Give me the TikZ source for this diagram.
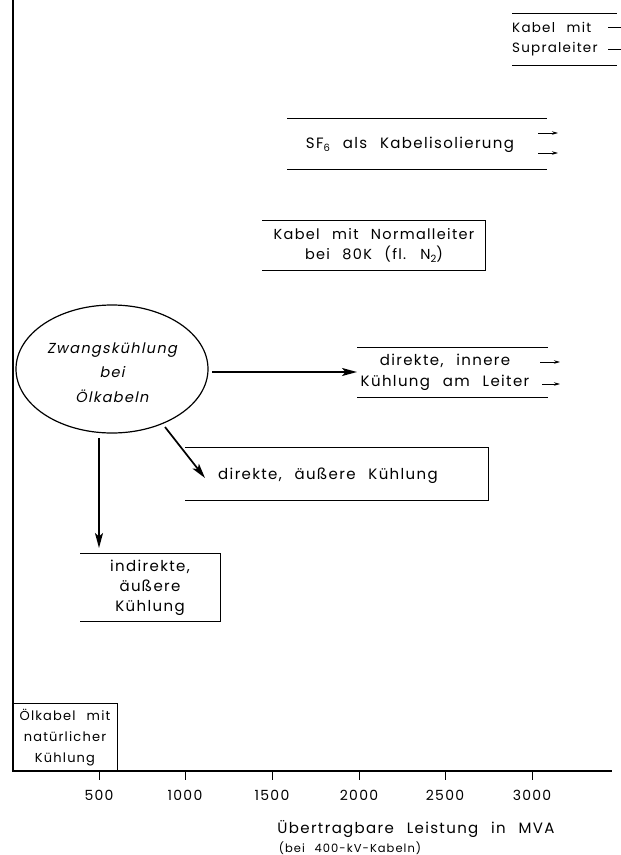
\documentclass[tikz,border=0pt]{standalone}
\usepackage{fontspec}
\setmainfont[LetterSpace=9,WordSpace=2.4]{Poppins}
\newfontfamily\slfont[FakeSlant=0.2,LetterSpace=9,WordSpace=1.6]{Poppins}
\usetikzlibrary{arrows.meta,shapes.geometric}
\newcommand{\subsc}[1]{\raisebox{-3pt}{\fontsize{10}{10}\selectfont #1}}
\begin{document}
\begin{tikzpicture}[x=1pt,y=-1pt,
  lbl/.style={inner sep=0pt, align=center, font=\fontsize{15}{21}\selectfont},
  lbll/.style={lbl, align=left, anchor=west},
  bar/.style={line width=0.8pt},
  big/.style={line width=1.7pt, -{Stealth[length=15pt,width=8pt,inset=3.5pt]}},
  sm/.style={line width=0.8pt, -{Stealth[length=6pt,width=3.5pt]}},
  axis/.style={line width=1.2pt}]
\useasboundingbox (0,0) rectangle (621,855);
\fill[white] (0,0) rectangle (621,855);
% axes
\draw[axis] (13,0) -- (13,771) -- (612,771);
\foreach \x/\v in {99/500,185/1000,272/1500,359/2000,445/2500,532/3000}{
  \draw[bar] (\x,771) -- (\x,780);
  \node[lbl, font=\fontsize{14}{16}\selectfont] (t\v) at (\x,795) {\v};
}
\node[lbl] (xlab) at (416,829) {Übertragbare Leistung in MVA};
\node[lbl, font=\fontsize{11.5}{12}\selectfont] (xsub) at (350,848) {(bei 400-kV-Kabeln)};
% Oelkabel
\draw[bar] (13,703) -- (117,703) -- (117,771);
\node[lbl, font=\fontsize{13}{21}\selectfont] (oel) at (65,738) {Ölkabel mit\\natürlicher\\Kühlung};
% indirekte
\draw[bar] (80,553) -- (220,553) -- (220,621) -- (80,621);
\node[lbl, font=\fontsize{15}{20}\selectfont] (ind) at (150,588) {indirekte,\\äußere\\Kühlung};
% direkte aeussere
\draw[bar] (185,447) -- (488,447) -- (488,500) -- (185,500);
\node[lbl] (dae) at (328,476) {direkte, äußere Kühlung};
% direkte innere
\draw[bar] (357,347) -- (548,347);
\draw[bar] (357,397) -- (548,397);
\node[lbl] (din) at (445,372.5) {direkte, innere\\Kühlung am Leiter};
\coordinate (dia1) at (540,362); \coordinate (dia2) at (560,362);
\coordinate (dib1) at (542,384); \coordinate (dib2) at (560,384);
\draw[sm] (dia1) -- (dia2);
\draw[sm] (dib1) -- (dib2);
% Normalleiter
\draw[bar] (262,220) -- (485,220) -- (485,270) -- (262,270);
\node[lbl, font=\fontsize{14.5}{20}\selectfont] (nl) at (374,245) {Kabel mit Normalleiter\\bei 80K (fl. N\subsc{2})};
% SF6
\draw[bar] (287,118) -- (547,118);
\draw[bar] (287,169) -- (547,169);
\node[lbl] (sf) at (410,145) {SF\subsc{6} als Kabelisolierung};
\coordinate (sfa1) at (538,133); \coordinate (sfa2) at (558,133);
\coordinate (sfb1) at (538,153); \coordinate (sfb2) at (558,153);
\draw[sm] (sfa1) -- (sfa2);
\draw[sm] (sfb1) -- (sfb2);
% Supraleiter
\draw[bar] (512,13) -- (617,13);
\draw[bar] (512,65) -- (617,65);
\node[lbll, font=\fontsize{13.5}{20}\selectfont] (sl1) at (512,27) {Kabel mit};
\node[lbll, font=\fontsize{13.5}{20}\selectfont] (sl2) at (512,49) {Supraleiter};
\coordinate (sla1) at (608,27); \coordinate (sla2) at (626,27);
\coordinate (slb1) at (608,49); \coordinate (slb2) at (630,49);
\draw[bar] (sla1) -- (sla2);
\draw[sm] (slb1) -- (slb2);
% ellipse
\node[draw, ellipse, line width=1.2pt, minimum width=192pt, minimum height=128pt, inner sep=0pt] (ell) at (112,369) {};
\node[lbl, font=\fontsize{14.5}{24.5}\selectfont\slfont] (elltxt) at (112,372.5) {Zwangskühlung\\bei\\Ölkabeln};
% arrows
\coordinate (hs) at (212,372); \coordinate (he) at (357,372);
\coordinate (ds) at (165,427); \coordinate (de) at (205,478);
\coordinate (vs) at (99,438); \coordinate (ve) at (99,548);
\draw[big] (hs) -- (he);
\draw[big] (ds) -- (de);
\draw[big] (vs) -- (ve);
\end{tikzpicture}
\end{document}
